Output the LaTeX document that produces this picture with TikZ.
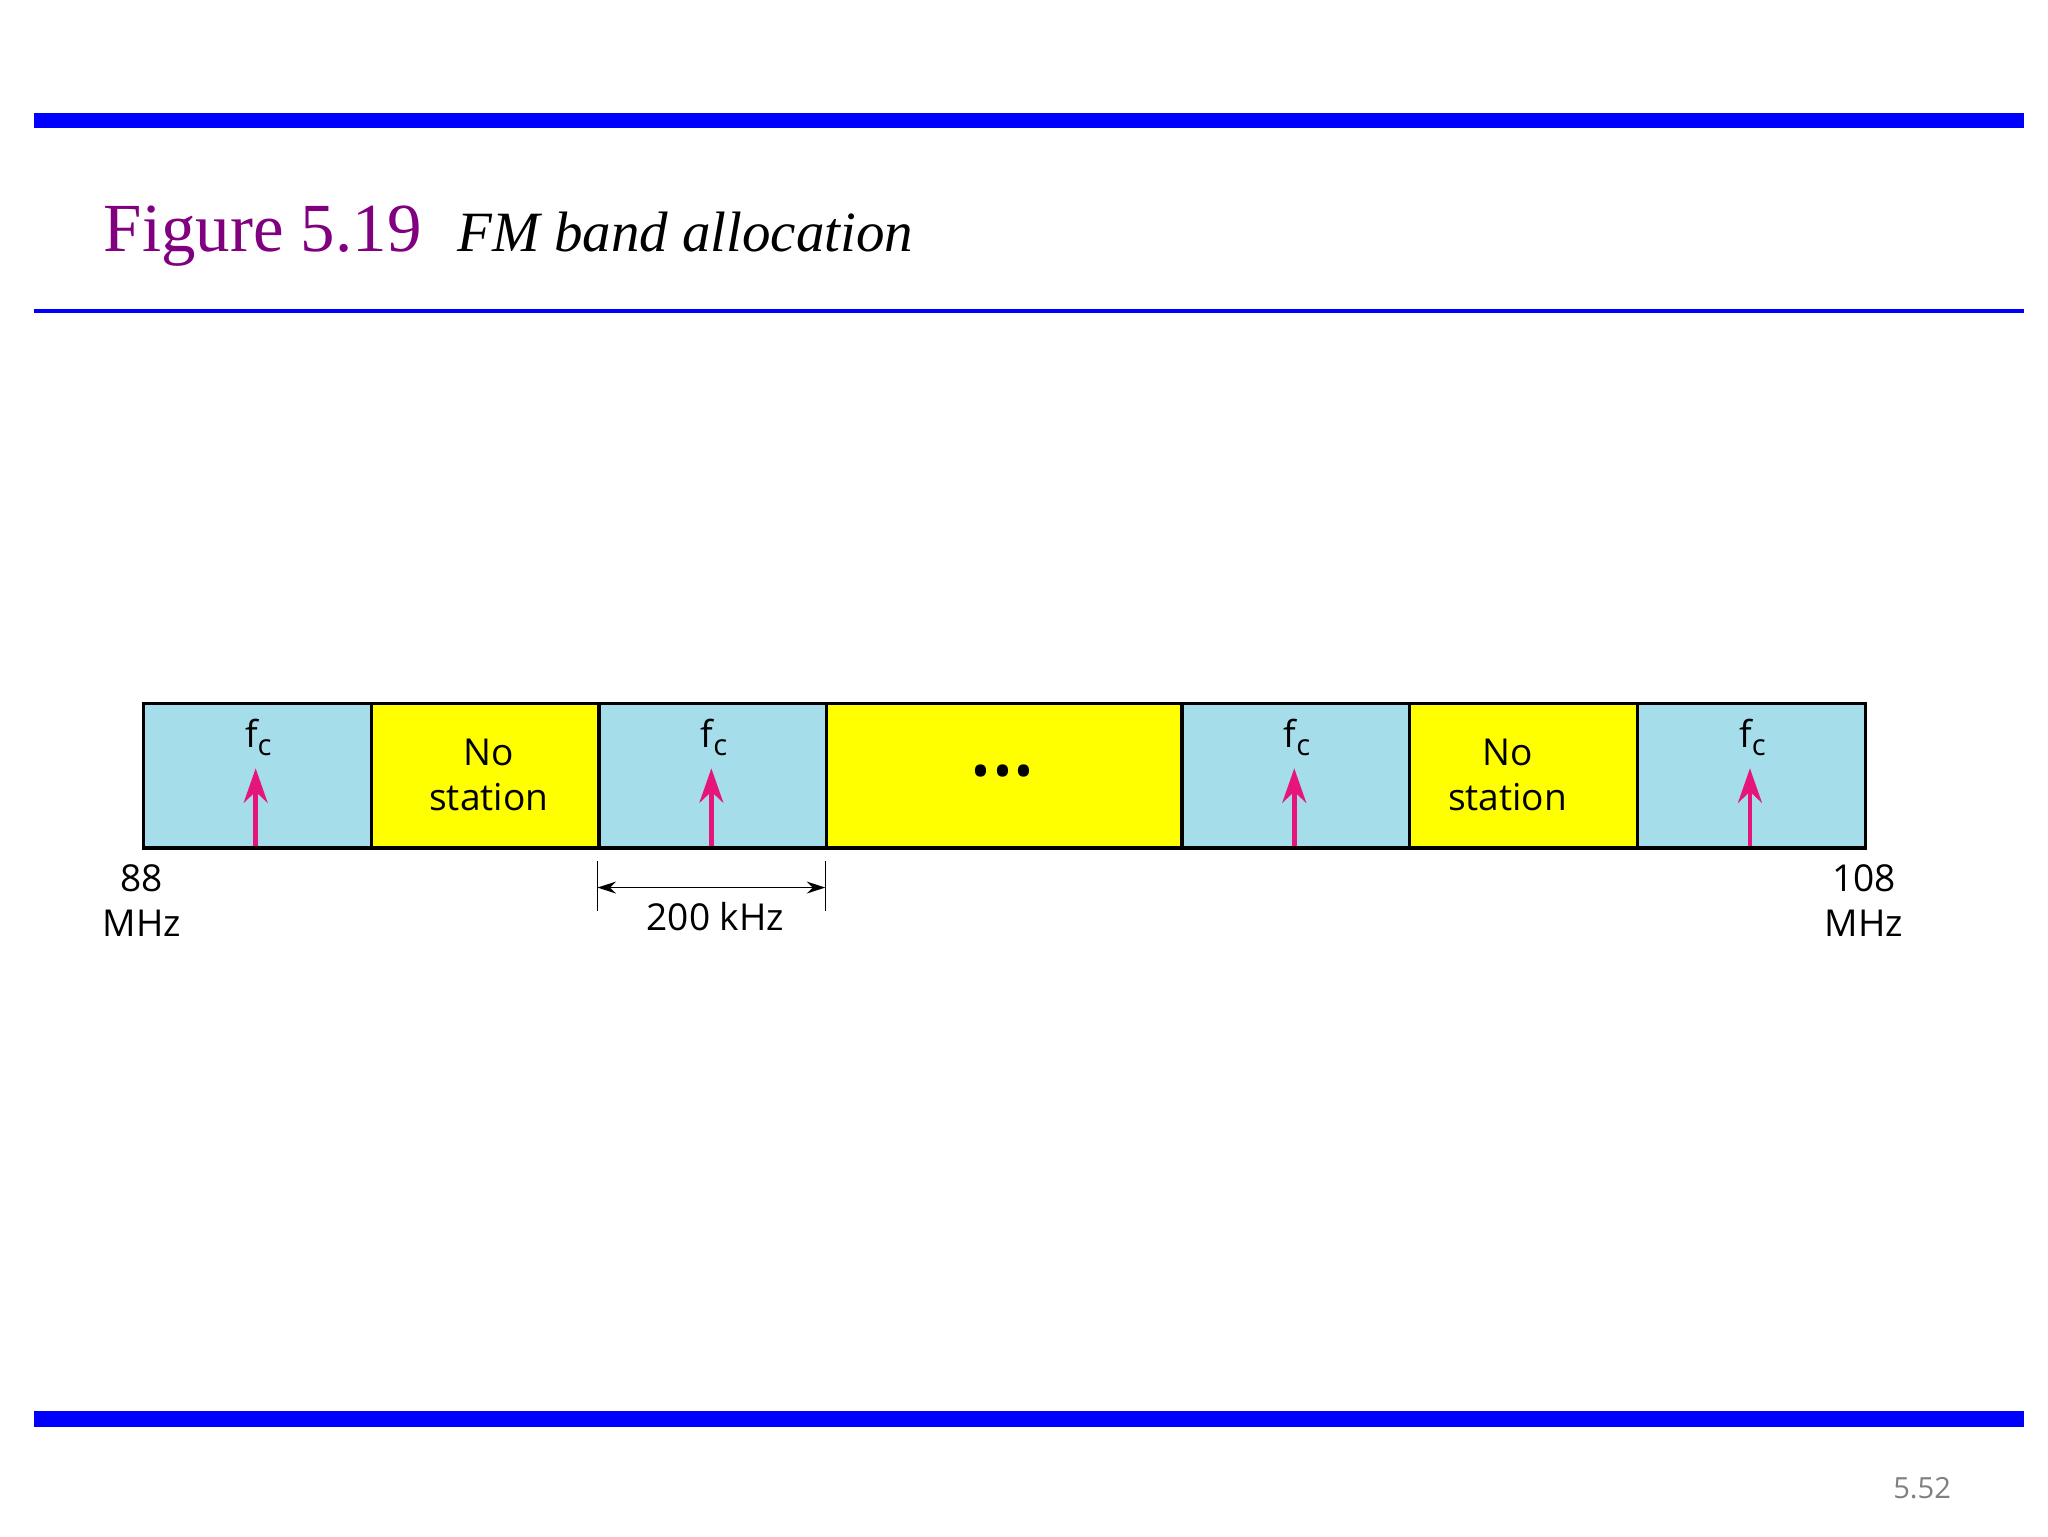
\documentclass[tikz,border=0pt]{standalone}
\usepackage{fontspec}
\setmainfont{Liberation Serif}
\newfontfamily\lab{Open Sans}
\usetikzlibrary{arrows.meta}
\definecolor{cblue}{HTML}{A6DDEA}
\definecolor{cyel}{HTML}{FFFF00}
\definecolor{cmag}{HTML}{E6157A}
\definecolor{tpurple}{HTML}{800080}
\tikzset{
  band/.style={draw=black,line width=1.2pt,minimum height=54.5pt,inner sep=0pt,anchor=north west},
  lbl/.style={font=\lab\fontsize{14}{17}\selectfont,align=center,inner sep=0pt},
  carrier/.style={draw=cmag,line width=1.8pt,-{Stealth[length=13pt,width=9pt]}},
}
\begin{document}
\begin{tikzpicture}[x=0.5pt,y=-0.5pt]
\useasboundingbox (0,0) rectangle (1546,1160);
\fill[blue] (26,85) rectangle (1528,97);
\fill[blue] (26,233.5) rectangle (1528,236.5);
\fill[blue] (26,1065) rectangle (1528,1077);
\node[anchor=base west,inner sep=0pt,text=tpurple,font=\fontsize{26}{30}\selectfont] (fig) at (78,190) {Figure 5.19};
\node[anchor=base west,inner sep=0pt,font=\itshape\fontsize{21.5}{26}\selectfont] (cap) at (345,190) {FM band allocation};
\node[anchor=base,inner sep=0pt,text=gray,font=\lab\fontsize{11}{13}\selectfont] (pg) at (1451,1131) {5.52};
% bands
\node[band,fill=cblue,minimum width=86pt] (b1) at (107,530) {};
\node[band,fill=cyel,minimum width=86pt] (b2) at (279,530) {};
\node[band,fill=cblue,minimum width=86pt] (b3) at (451,530) {};
\node[band,fill=cyel,minimum width=134pt] (b4) at (623,530) {};
\node[band,fill=cblue,minimum width=86pt] (b5) at (891,530) {};
\node[band,fill=cyel,minimum width=86pt] (b6) at (1063,530) {};
\node[band,fill=cblue,minimum width=86pt] (b7) at (1235,530) {};
\node[lbl] (n1) at (369,585) {No\\station};
\node[lbl] (n2) at (1138,585) {No\\station};
\node[lbl,font=\lab\fontsize{15}{15}\selectfont\bfseries] (dots) at (757,585) {\textbullet\,\textbullet\,\textbullet};
\foreach \i/\x in {1/193,2/537,3/977,4/1321}{
  \node[lbl] (f\i) at (\x+2,557) {f\raisebox{-3pt}{\fontsize{11}{12}\selectfont c}};
  \coordinate (a\i) at (\x,639);
  \coordinate (t\i) at (\x,580);
  \draw[carrier] (a\i) -- (t\i);
}
\node[lbl] (m1) at (107,680) {88\\MHz};
\node[lbl] (m2) at (1407,680) {108\\MHz};
\coordinate (d1) at (451,650); \coordinate (d1b) at (451,688);
\coordinate (d2) at (623,650); \coordinate (d2b) at (623,688);
\draw[line width=0.6pt] (d1) -- (d1b);
\draw[line width=0.6pt] (d2) -- (d2b);
\coordinate (e1) at (451,670); \coordinate (e2) at (623,670);
\draw[line width=0.6pt,{Stealth[length=7pt,width=4.5pt]}-{Stealth[length=7pt,width=4.5pt]}] (e1) -- (e2);
\node[lbl] (khz) at (540,692) {200 kHz};
\end{tikzpicture}
\end{document}
